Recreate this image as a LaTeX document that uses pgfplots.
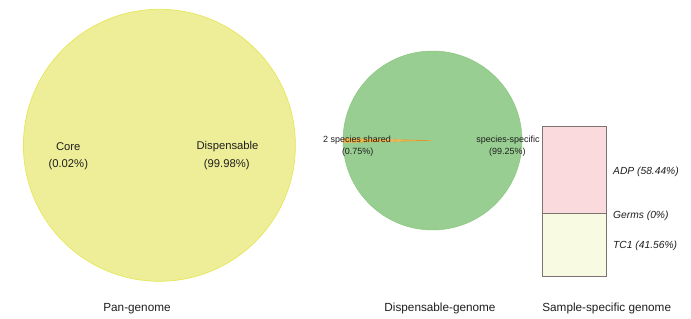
\documentclass[border=0pt]{standalone}
\usepackage{pgfplots}
\pgfplotsset{compat=1.18}
\usepackage{fontspec}
\setmainfont{Liberation Sans}
\definecolor{pieY}{RGB}{238,238,152}
\definecolor{pieYedge}{RGB}{230,230,90}
\definecolor{pieCore}{RGB}{236,236,150}
\definecolor{pieG}{RGB}{153,206,146}
\definecolor{pieGedge}{RGB}{140,198,128}
\definecolor{pieO}{RGB}{240,184,70}
\definecolor{pieOedge}{RGB}{226,150,50}
\definecolor{barP}{RGB}{250,218,221}
\definecolor{barY}{RGB}{248,250,226}
\definecolor{barE}{RGB}{125,115,112}
\definecolor{txt}{RGB}{30,30,30}
% data (percent)
\def\PanCore{0.02}
\def\PanDisp{99.98}
\def\DisShared{0.75}
\def\DisSpecific{99.25}
\begin{document}
\begin{tikzpicture}
\useasboundingbox (0,0) rectangle (691bp,319bp);
\pgfmathsetmacro\aA{180-1.8*\PanCore}
\pgfmathsetmacro\aB{180+1.8*\PanCore}
\pgfmathsetmacro\aC{\aB+3.6*\PanDisp}
\pgfmathsetmacro\bA{180-1.8*\DisShared}
\pgfmathsetmacro\bB{180+1.8*\DisShared}
\pgfmathsetmacro\bC{\bB+3.6*\DisSpecific}
% Pan-genome pie
\begin{axis}[at={(159.4bp,173.7bp)}, anchor=center, scale only axis,
  width=272bp, height=272bp, xmin=-1, xmax=1, ymin=-1, ymax=1,
  hide axis, clip=false]
\fill[pieY] (axis cs:0,0) -- ++(\aB:136bp) arc[start angle=\aB, end angle=\aC, radius=136bp] -- cycle;
\fill[pieCore] (axis cs:0,0) -- ++(\aA:136bp) arc[start angle=\aA, end angle=\aB, radius=136bp] -- cycle;
\draw[pieYedge, line width=0.7pt] (axis cs:0,0) ++(\aB:136bp) arc[start angle=\aB, end angle=\aC, radius=136bp];
\end{axis}
% Dispensable-genome pie
\begin{axis}[at={(432.5bp,178.5bp)}, anchor=center, scale only axis,
  width=179bp, height=179bp, xmin=-1, xmax=1, ymin=-1, ymax=1,
  hide axis, clip=false]
\fill[pieG] (axis cs:0,0) -- ++(\bB:89.5bp) arc[start angle=\bB, end angle=\bC, radius=89.5bp] -- cycle;
\draw[pieGedge, line width=0.5pt] (axis cs:0,0) ++(\bB:89.5bp) arc[start angle=\bB, end angle=\bC, radius=89.5bp];
\filldraw[fill=pieO, draw=pieOedge, line width=0.3pt] (axis cs:0,0) -- ++(\bA:89.5bp) arc[start angle=\bA, end angle=\bB, radius=89.5bp] -- cycle;
\end{axis}
% Sample-specific stacked bar
\begin{axis}[at={(542.3bp,43bp)}, anchor=south west, scale only axis,
  width=64.4bp, height=150bp, xmin=-0.5, xmax=0.5, ymin=0, ymax=100,
  ybar stacked, bar width=64.4bp, hide axis, clip=false]
\addplot[fill=barY, draw=barE, line width=0.7pt] coordinates {(0,41.56)};
\addplot[fill=barY, draw=barE, line width=0.7pt] coordinates {(0,0)};
\addplot[fill=barP, draw=barE, line width=0.7pt] coordinates {(0,58.44)};
\end{axis}
% labels
\begin{scope}[every node/.style={text=txt, inner sep=0pt}]
\node[font=\fontsize{11.3}{13}\selectfont] at (68.3bp,172.3bp) {Core};
\node[font=\fontsize{11.3}{13}\selectfont] at (68.3bp,154bp) {(0.02\%)};
\node[font=\fontsize{11.3}{13}\selectfont] at (227.5bp,172.3bp) {Dispensable};
\node[font=\fontsize{11.3}{13}\selectfont] at (226.7bp,154bp) {(99.98\%)};
\node[font=\fontsize{9}{11}\selectfont] at (357bp,179bp) {2 species shared};
\node[font=\fontsize{9}{11}\selectfont] at (357.7bp,166.7bp) {(0.75\%)};
\node[font=\fontsize{9}{11}\selectfont] at (508bp,179bp) {species-specific};
\node[font=\fontsize{9}{11}\selectfont] at (507.3bp,166.7bp) {(99.25\%)};
\node[font=\fontsize{10.3}{12}\selectfont\itshape, anchor=west] at (613bp,147bp) {ADP (58.44\%)};
\node[font=\fontsize{10.3}{12}\selectfont\itshape, anchor=west] at (613bp,103bp) {Germs (0\%)};
\node[font=\fontsize{10.3}{12}\selectfont\itshape, anchor=west] at (613bp,73bp) {TC1 (41.56\%)};
\node[font=\fontsize{11.8}{14}\selectfont] at (137bp,10.8bp) {Pan-genome};
\node[font=\fontsize{11.8}{14}\selectfont] at (440bp,10.5bp) {Dispensable-genome};
\node[font=\fontsize{11.8}{14}\selectfont] at (606.7bp,10.5bp) {Sample-specific genome};
\end{scope}
\end{tikzpicture}
\end{document}
